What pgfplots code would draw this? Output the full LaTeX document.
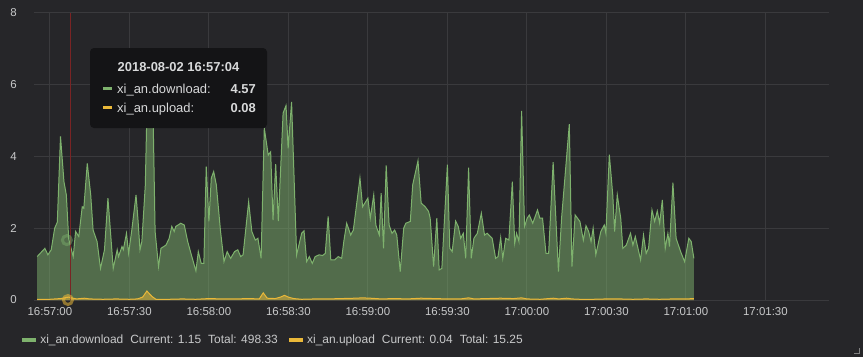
\documentclass[border=0pt]{standalone}
\usepackage{pgfplots}
\usepackage{pgfplotstable}
\pgfplotsset{compat=1.18}
\usepackage{fontspec}
\setmainfont{Liberation Sans}
\definecolor{bgc}{HTML}{262629}
\definecolor{gridc}{HTML}{3A3A3D}
\definecolor{dl}{HTML}{7EB26D}
\definecolor{ul}{HTML}{EAB839}
\definecolor{tipbg}{HTML}{141416}
\definecolor{txt}{HTML}{C8C9CA}
\definecolor{tiptxt}{HTML}{D8D9DA}
\definecolor{redl}{HTML}{7A2424}

\pgfplotstableread{
x y
-4.8 1.21
-1.9 1.44
-0.75 1.26
0.5 1.40
1.8 2.00
2.8 2.17
4.0 4.56
5.3 3.30
6.2 2.93
7.1 1.70
8.8 1.21
9.7 1.91
10.9 1.77
12.2 2.60
12.8 2.56
14.1 3.81
15.4 2.93
16.3 1.95
17.8 1.63
19.1 0.88
20.6 1.40
21.9 2.84
23.9 0.88
25.4 1.40
25.9 1.21
27.2 1.49
27.7 1.40
28.9 1.86
29.7 1.30
30.9 1.95
32.5 2.93
33.2 2.28
34.0 1.40
34.7 1.63
36.0 3.20
36.5 4.90
37.1 5.60
38.1 5.50
39.0 4.90
39.7 1.91
41.0 0.93
41.9 1.44
43.8 1.53
45.0 1.72
46.0 2.05
46.9 1.91
47.5 2.05
49.4 2.14
50.7 2.09
52.0 1.63
53.6 1.20
55.1 0.81
56.0 1.35
57.1 1.02
58.1 1.02
59.0 3.72
60.0 2.19
60.9 3.40
61.8 3.58
62.8 3.21
64.4 1.91
65.7 1.07
66.9 1.35
68.2 1.16
69.7 1.35
70.9 1.40
72.0 1.21
72.9 1.26
75.0 2.74
76.2 1.91
77.5 1.67
78.5 1.72
79.7 1.16
80.9 4.79
82.4 4.04
83.3 4.13
84.2 2.23
85.2 3.79
86.2 2.20
88.0 5.21
89.1 5.42
89.9 4.23
91.2 5.52
93.1 1.26
95.0 1.86
95.9 1.93
96.9 1.07
97.9 1.21
99.0 1.02
100.1 1.21
101.6 1.26
102.9 1.24
103.9 1.30
105.0 2.33
106.0 1.12
107.5 1.12
108.8 1.21
110.1 1.16
110.9 1.63
112.0 2.14
113.5 1.81
114.5 1.95
117.0 3.40
118.0 2.60
120.0 2.84
120.9 2.28
122.2 2.93
123.0 2.09
124.3 1.81
125.0 2.98
125.9 1.44
126.9 3.75
128.0 2.09
129.1 1.86
130.1 1.95
130.9 1.81
132.2 0.79
133.5 2.00
134.3 2.14
136.0 2.19
136.9 3.21
138.9 3.88
140.1 2.70
141.6 2.60
142.9 2.47
143.5 2.28
144.8 0.93
146.0 2.28
146.9 0.84
147.9 0.88
150.0 3.77
150.9 1.44
151.8 1.35
153.1 2.20
154.1 2.05
155.0 1.72
156.0 1.86
156.9 1.16
158.0 3.69
159.0 1.16
160.0 1.72
161.3 1.86
162.8 2.42
164.0 1.81
165.0 1.86
166.9 1.72
168.2 1.16
169.1 1.21
170.1 1.74
170.9 1.16
172.0 1.72
173.2 1.67
174.5 3.30
175.4 1.58
176.1 1.86
177.0 1.63
178.0 5.27
179.1 2.05
180.1 2.28
180.9 2.37
182.2 2.14
184.0 2.51
184.9 2.28
185.9 2.28
187.2 1.30
188.2 1.30
189.9 3.84
191.9 0.79
193.1 2.30
196.0 4.90
197.0 0.93
198.2 2.37
200.0 2.19
201.3 1.67
202.3 2.07
203.3 1.91
204.2 1.63
205.0 2.00
206.0 1.26
207.9 1.91
209.2 2.09
209.8 1.86
211.1 4.05
212.4 2.93
213.1 1.91
214.1 2.93
215.4 2.28
216.2 1.44
217.5 1.53
219.1 1.86
220.0 1.53
220.9 1.77
222.9 1.12
224.0 1.81
225.0 1.30
225.9 1.44
227.2 2.51
228.2 2.19
229.2 2.48
230.1 2.14
231.1 2.79
232.2 1.44
233.2 1.86
233.8 1.49
235.1 3.27
236.3 1.72
238.0 1.35
239.5 1.07
241.1 1.72
242.0 1.63
243.0 1.16
}\dltable

\pgfplotstableread{
x y
-4.8 0.02
0 0.02
4 0.04
7 0.08
10 0.03
13 0.05
15 0.03
20 0.02
25 0.03
30 0.02
33 0.03
35 0.08
36.6 0.25
38.5 0.10
40 0.02
45 0.02
50 0.03
55 0.02
60 0.04
65 0.03
70 0.03
75 0.04
79 0.03
80.5 0.20
82 0.05
85 0.04
87 0.08
88.5 0.13
90 0.08
92 0.04
95 0.02
100 0.03
105 0.03
110 0.04
115 0.05
118 0.06
121 0.05
125 0.03
130 0.04
135 0.03
140 0.05
145 0.04
150 0.03
155 0.03
158 0.06
160 0.03
165 0.04
170 0.05
175 0.04
178 0.06
180 0.03
185 0.02
190 0.05
192 0.03
195 0.05
197 0.03
200 0.02
205 0.02
210 0.03
215 0.03
220 0.02
225 0.03
230 0.02
235 0.03
240 0.03
243 0.04
}\ultable

\begin{document}
\begin{tikzpicture}[x=1bp,y=1bp]
\fill[bgc] (0,0) rectangle (863,357);
\useasboundingbox (0,0) rectangle (863,357);
\begin{axis}[
  at={(34bp,57bp)}, anchor=south west,
  scale only axis, width=795bp, height=287bp,
  xmin=-6, xmax=294, ymin=0, ymax=8,
  xtick={0,30,...,270},
  xticklabels={16:57:00,16:57:30,16:58:00,16:58:30,16:59:00,16:59:30,17:00:00,17:00:30,17:01:00,17:01:30},
  ytick={0,2,...,8},
  grid=major,
  major grid style={gridc, line width=1bp},
  axis line style={draw=none},
  major tick length=0pt,
  /pgf/number format/assume math mode=true,
  tick label style={font=\fontsize{11.5}{13}\selectfont, text=txt},
  xticklabel style={anchor=north, inner sep=0pt, yshift=-7bp},
  yticklabel style={anchor=east, inner sep=0pt, xshift=-17bp},
  clip=false,
  legend columns=2,
  legend cell align=left,
  legend style={draw=none, fill=none, at={(-0.0151,-0.1394)}, anchor=west,
    inner sep=0pt, outer sep=0pt,
    font=\fontsize{12}{14}\selectfont, text=txt,
    nodes={inner sep=0pt},
    /tikz/every odd column/.append style={column sep=4.6bp},
    /tikz/every even column/.append style={column sep=11bp}},
  legend image code/.code={\fill[#1] (0bp,-1.5bp) rectangle (12.7bp,1.5bp);},
]
\addplot[draw=none, fill=dl, fill opacity=0.5, forget plot] table {\dltable} \closedcycle;
\addplot[dl, line width=1bp] table {\dltable};
\addlegendentry{xi\_an.download\hspace{7bp}Current: 1.15\hspace{7bp}Total: 498.33}
\addplot[draw=none, fill=ul, fill opacity=0.5, forget plot] table {\ultable} \closedcycle;
\addplot[ul, line width=1bp] table {\ultable};
\addlegendentry{xi\_an.upload\hspace{7bp}Current: 0.04\hspace{7bp}Total: 15.25}
\addplot[redl, line width=1.2bp, forget plot] coordinates {(7.8,0) (7.8,8)};
\addplot[only marks, mark=o, mark size=4.5bp, mark options={draw=dl, line width=3bp, draw opacity=0.45}, forget plot] coordinates {(6.4,1.67)};
\addplot[only marks, mark=o, mark size=4.5bp, mark options={draw=ul, line width=3bp, draw opacity=0.55}, forget plot] coordinates {(6.8,0)};
\end{axis}
% tooltip
\fill[tipbg, rounded corners=4bp] (90,229) rectangle (267,309);
\node[anchor=base, inner sep=0pt, text=tiptxt, font=\bfseries\fontsize{13}{15}\selectfont] at (178.5,285.5) {2018-08-02 16:57:04};
\fill[dl] (103,267) rectangle (112,270);
\node[anchor=base west, inner sep=0pt, text=tiptxt, font=\fontsize{13}{15}\selectfont] at (117,263.5) {xi\_an.download:};
\node[anchor=base east, inner sep=0pt, text=tiptxt, font=\bfseries\fontsize{13}{15}\selectfont] at (256,263.5) {4.57};
\fill[ul] (103,248) rectangle (112,251);
\node[anchor=base west, inner sep=0pt, text=tiptxt, font=\fontsize{13}{15}\selectfont] at (117,244.5) {xi\_an.upload:};
\node[anchor=base east, inner sep=0pt, text=tiptxt, font=\bfseries\fontsize{13}{15}\selectfont] at (256,244.5) {0.08};
\draw[gray, line width=0.8bp] (854,4)--(859,4)--(859,9);
\end{tikzpicture}
\end{document}
